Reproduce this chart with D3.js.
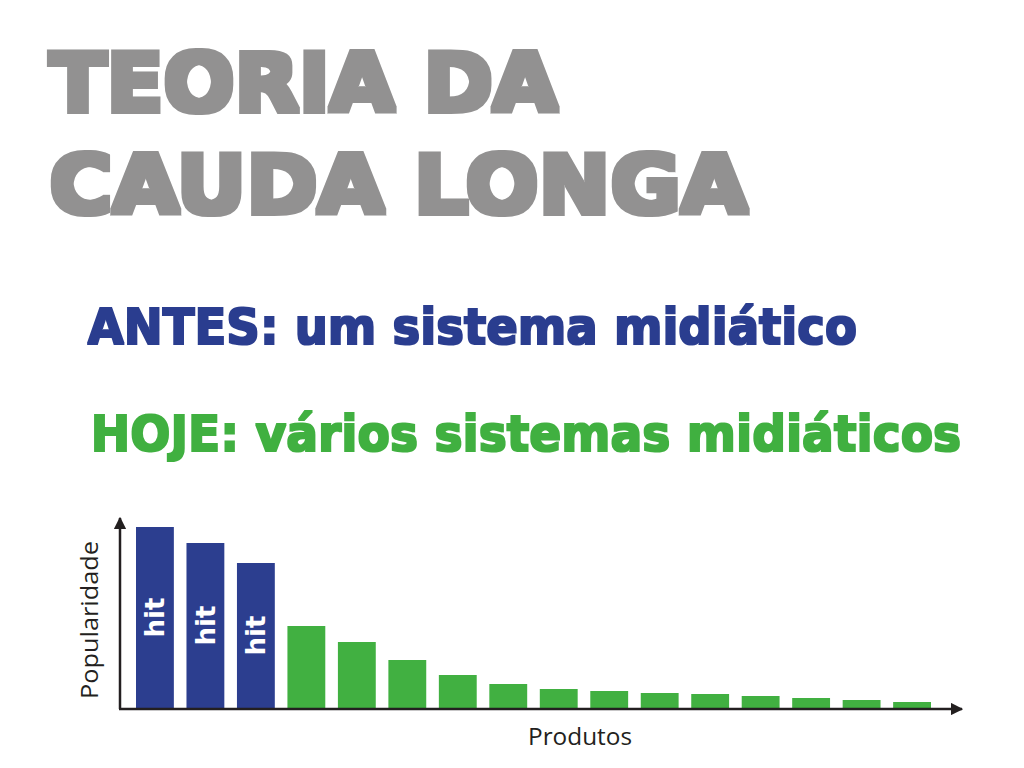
<!DOCTYPE html>
<html>
<head>
<meta charset="utf-8">
<script src="https://cdn.jsdelivr.net/npm/d3@7/dist/d3.min.js"></script>
<style>
  body { margin: 0; background: #fff; }
</style>
</head>
<body>
<div id="mainwindow"></div>
<script>
// long tail chart - hits vs the tail
const width = 1024,
  height = 768;

const products = ["p1","p2","p3","p4","p5","p6","p7","p8","p9","p10","p11","p12","p13","p14","p15","p16"];
const popularity = [181, 165, 145, 82, 66, 48, 33, 24, 19, 17, 15, 14, 12, 10, 8, 6];
const hitLabels = ["hit", "hit", "hit"];

const titleLines = ["TEORIA DA", "CAUDA LONGA"];
const antesText = "ANTES: um sistema midiático";
const hojeText = "HOJE: vários sistemas midiáticos";

const gray = "#929191",
  blue = "#2c3e8f",
  green = "#41b041",
  ink = "#231f20";

const svg = d3.select("#mainwindow")
  .append("svg")
  .attr("width", width)
  .attr("height", height);

const defs = svg.append("defs");

// no black weight installed, so fatten the bold face with a dilate filter
const fat = { title: 2.5, sub: 0.8 };
Object.entries(fat).forEach(([id, r]) => {
  defs.append("filter")
    .attr("id", "fat_" + id)
    .attr("x", "-5%").attr("y", "-20%")
    .attr("width", "110%").attr("height", "140%")
    .append("feMorphology")
    .attr("operator", "dilate")
    .attr("radius", r);
});

const heavy = "'DejaVu Sans', sans-serif";
function heavyText(x, y, size, color, kind, len, txt) {
  let grow = fat[kind] * 2;
  let t = svg.append("text")
    .attr("x", 0).attr("y", 0)
    .attr("font-family", heavy)
    .attr("font-weight", "bold")
    .attr("font-size", size)
    .attr("fill", color)
    .text(txt);
  let natural = t.node().getComputedTextLength();
  let sx = (len - grow) / natural;
  t.attr("transform", `translate(${x + grow / 2},${y - grow / 2}) scale(${sx},1)`)
    .attr("filter", `url(#fat_${kind})`);
}

const titleW = [513, 703];
titleLines.forEach((t, i) => {
  heavyText(47, 113 + i * 102, 80, gray, "title", titleW[i], t);
});

heavyText(87, 345, 50, blue, "sub", 771, antesText);
heavyText(90, 452, 50, green, "sub", 872, hojeText);

// chart
const x0 = 120, base = 708;
const x = d3.scaleBand()
  .domain(products)
  .range([136, 931])
  .paddingInner(0.25)
  .paddingOuter(0);

const y = d3.scaleLinear()
  .domain([0, 190])
  .range([base, base - 190]);

const g = svg.append("g").attr("id", "bars");

g.selectAll("rect")
  .data(popularity)
  .join("rect")
  .attr("x", (d, i) => x(products[i]))
  .attr("y", d => y(d))
  .attr("width", x.bandwidth())
  .attr("height", d => y(0) - y(d))
  .attr("fill", (d, i) => i < hitLabels.length ? blue : green);

g.selectAll("text.hit")
  .data(hitLabels)
  .join("text")
  .attr("class", "hit")
  .attr("transform", (d, i) => {
    let cx = x(products[i]) + x.bandwidth() / 2;
    let cy = (y(popularity[i]) + y(0)) / 2;
    return `translate(${cx},${cy}) rotate(-90)`;
  })
  .attr("text-anchor", "middle")
  .attr("dy", "0.35em")
  .attr("font-family", heavy)
  .attr("font-weight", "bold")
  .attr("font-size", 26)
  .attr("fill", "#fff")
  .text(d => d);

// axes with arrow heads
defs.append("marker")
  .attr("id", "arrow")
  .attr("viewBox", "0 0 10 10")
  .attr("refX", 9).attr("refY", 5)
  .attr("markerWidth", 5).attr("markerHeight", 5)
  .attr("markerUnits", "strokeWidth")
  .attr("orient", "auto")
  .append("path")
  .attr("d", "M0,0 L10,5 L0,10 z")
  .attr("fill", ink);

svg.append("line")
  .attr("x1", x0).attr("y1", base + 1)
  .attr("x2", x0).attr("y2", y(190))
  .attr("stroke", ink).attr("stroke-width", 2.5)
  .attr("marker-end", "url(#arrow)");

svg.append("line")
  .attr("x1", x0 - 1).attr("y1", base + 1)
  .attr("x2", 962).attr("y2", base + 1)
  .attr("stroke", ink).attr("stroke-width", 2.5)
  .attr("marker-end", "url(#arrow)");

svg.append("text")
  .attr("transform", `translate(98,${620}) rotate(-90)`)
  .attr("text-anchor", "middle")
  .attr("font-family", "'Open Sans', sans-serif")
  .attr("font-size", 24)
  .attr("fill", ink)
  .attr("textLength", 158)
  .attr("lengthAdjust", "spacingAndGlyphs")
  .text("Popularidade");

svg.append("text")
  .attr("x", 580).attr("y", 745)
  .attr("text-anchor", "middle")
  .attr("font-family", "'Open Sans', sans-serif")
  .attr("font-size", 24)
  .attr("fill", ink)
  .attr("textLength", 104)
  .attr("lengthAdjust", "spacingAndGlyphs")
  .text("Produtos");
</script>
</body>
</html>
